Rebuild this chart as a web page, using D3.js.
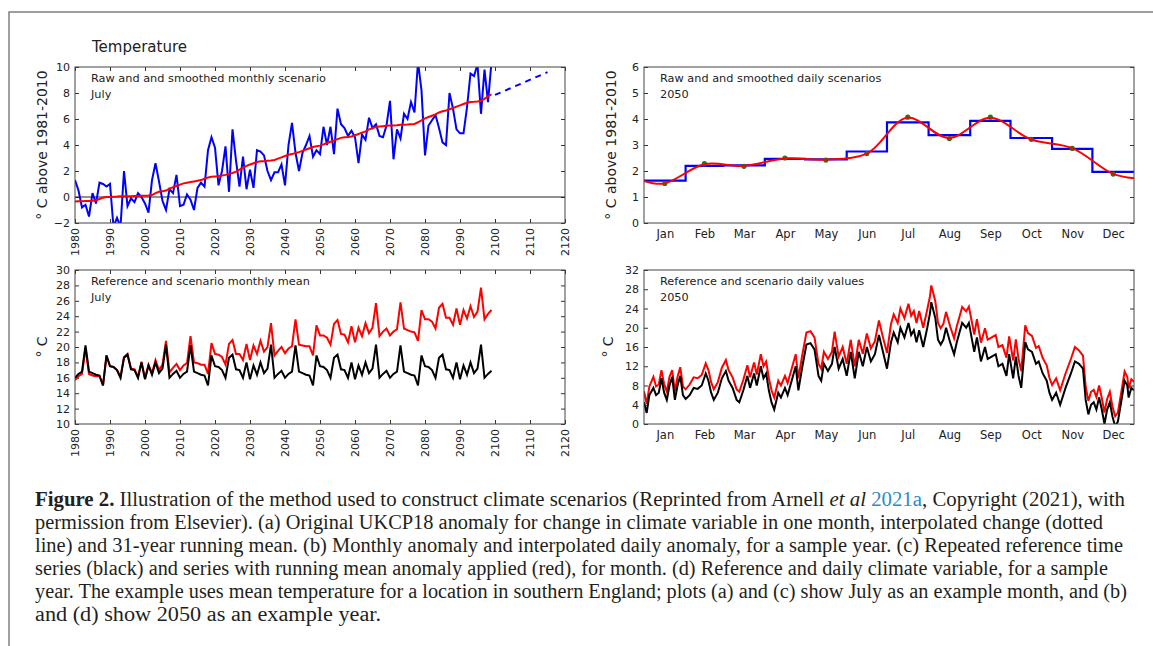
<!DOCTYPE html>
<html>
<head>
<meta charset="utf-8">
<script src="https://cdn.jsdelivr.net/npm/d3@7"></script>
<style>
  body { margin: 0; background: #fff; }
  svg text { font-family: "DejaVu Sans", sans-serif; fill: #222; }
  .cap text { font-family: "Liberation Serif", serif; fill: #231f20; }
</style>
</head>
<body>
<svg id="fig" width="1153" height="646"></svg>
<script>
// ---------- data ----------
const firstYear = 1980;

// (a) raw July anomaly, 1980-2099
const rawJuly = [
  1.3, 0.5, -0.8, -0.6, -1.5, 0.3, -0.5, 1.1, 1.0, 0.8,
  1.0, -2.3, -1.6, -2.3, 2.0, -0.7, -0.1, -0.4, 0.3, 0.0,
  -0.5, -1.2, 1.3, 2.6, 1.2, -0.3, -1.0, 0.6, 0.3, 1.7,
  -0.7, -0.6, 0.2, -0.2, -1.0, 0.7, 1.1, 0.8, 3.6, 4.6,
  3.8, 0.9, 2.0, 3.9, 0.4, 5.2, 2.8, 0.8, 3.1, 0.6,
  2.1, 0.7, 3.6, 3.5, 3.2, 2.0, 1.3, 1.9, 1.9, 2.5,
  0.9, 4.0, 5.7, 3.4, 2.0, 3.4, 4.0, 4.7, 3.1, 3.6,
  3.3, 5.4, 4.0, 5.4, 3.3, 6.8, 5.6, 5.3, 4.7, 5.1,
  4.6, 2.6, 4.8, 4.4, 6.1, 5.3, 5.6, 4.7, 4.6, 5.5,
  7.4, 2.9, 5.2, 4.5, 6.4, 6.0, 7.3, 6.5, 10.4, 8.2,
  3.2, 5.5, 5.9, 6.3, 5.3, 4.2, 4.0, 8.0, 6.8, 5.2,
  4.9, 4.9, 6.9, 9.5, 9.3, 10.2, 6.4, 9.8, 7.3, 10.4
];
// (a) 31-year running mean, 1980-2099
const smoothJuly = [
  -0.35, -0.33, -0.32, -0.3, -0.3, -0.28, -0.25, -0.15, -0.05, 0.0,
  0.0, 0.02, 0.03, 0.05, 0.05, 0.05, 0.06, 0.08, 0.08, 0.1,
  0.1, 0.12, 0.15, 0.3, 0.4, 0.45, 0.5, 0.65, 0.75, 0.85,
  0.95, 1.05, 1.1, 1.15, 1.2, 1.25, 1.3, 1.4, 1.5, 1.55,
  1.58, 1.6, 1.65, 1.7, 1.78, 1.85, 1.95, 2.1, 2.25, 2.4,
  2.5, 2.6, 2.7, 2.75, 2.75, 2.78, 2.8, 2.85, 2.95, 3.05,
  3.15, 3.25, 3.3, 3.38, 3.45, 3.55, 3.65, 3.75, 3.85, 3.9,
  3.95, 4.05, 4.15, 4.25, 4.35, 4.45, 4.55, 4.6, 4.62, 4.65,
  4.75, 4.85, 4.95, 5.05, 5.2, 5.3, 5.38, 5.42, 5.45, 5.48,
  5.5, 5.5, 5.52, 5.55, 5.55, 5.57, 5.6, 5.62, 5.75, 5.9,
  6.05, 6.15, 6.25, 6.35, 6.5, 6.6, 6.65, 6.75, 6.85, 6.95,
  7.05, 7.15, 7.25, 7.3, 7.32, 7.35, 7.4, 7.55, 7.75, 7.9
];
// (a) interpolated change beyond the series
const extYears = [2100, 2115];
const extVals = [7.85, 9.6];

// (b) months
const monthNames = ["Jan","Feb","Mar","Apr","May","Jun","Jul","Aug","Sep","Oct","Nov","Dec"];
const monthStart = [0, 31, 59, 90, 120, 151, 181, 212, 243, 273, 304, 334, 365];
const monthAnom = [1.63, 2.20, 2.22, 2.47, 2.45, 2.75, 3.87, 3.38, 3.93, 3.27, 2.85, 1.97];
const monthDot = [1.52, 2.28, 2.18, 2.50, 2.42, 2.67, 4.07, 3.25, 4.07, 3.22, 2.87, 1.88];
const smoothDays = [0, 15, 45, 74, 105, 135, 166, 196, 227, 258, 288, 319, 349, 365];
const smoothVals = [1.62, 1.52, 2.26, 2.2, 2.48, 2.44, 2.67, 4.05, 3.27, 4.05, 3.22, 2.88, 1.9, 1.72];

// (c) July mean, reference (black) and scenario (red), 1980-2099
const refJuly = [
  16.0, 16.5, 16.8, 20.2, 16.8, 16.6, 16.4, 16.3, 15.0, 18.9,
  17.5, 17.4, 17.0, 16.0, 18.6, 19.0, 17.1, 17.0, 16.0, 18.0,
  15.8, 17.6, 16.4, 18.0, 16.6, 17.2, 20.3, 16.0, 16.5, 16.9,
  16.0, 16.5, 16.8, 20.2, 16.8, 16.6, 16.4, 16.3, 15.0, 18.9,
  17.5, 17.4, 17.0, 16.0, 18.6, 19.0, 17.1, 17.0, 16.0, 18.0,
  15.8, 17.6, 16.4, 18.0, 16.6, 17.2, 20.3, 16.0, 16.5, 16.9,
  16.0, 16.5, 16.8, 20.2, 16.8, 16.6, 16.4, 16.3, 15.0, 18.9,
  17.5, 17.4, 17.0, 16.0, 18.6, 19.0, 17.1, 17.0, 16.0, 18.0,
  15.8, 17.6, 16.4, 18.0, 16.6, 17.2, 20.3, 16.0, 16.5, 16.9,
  16.0, 16.5, 16.8, 20.2, 16.8, 16.6, 16.4, 16.3, 15.0, 18.9,
  17.5, 17.4, 17.0, 16.0, 18.6, 19.0, 17.1, 17.0, 16.0, 18.0,
  15.8, 17.6, 16.4, 18.0, 16.6, 17.2, 20.3, 16.0, 16.5, 16.9
];
const scenJuly = [
  15.7, 16.2, 16.5, 19.9, 16.5, 16.3, 16.2, 16.2, 15.0, 18.9,
  17.5, 17.4, 17.0, 16.1, 18.7, 19.1, 17.2, 17.1, 16.1, 18.1,
  15.9, 17.7, 16.6, 18.3, 17.0, 17.7, 20.8, 16.7, 17.3, 17.8,
  17.0, 17.6, 17.9, 21.4, 18.0, 17.9, 17.7, 17.7, 16.5, 20.5,
  19.1, 19.0, 18.7, 17.7, 20.4, 20.9, 19.1, 19.1, 18.3, 20.4,
  18.3, 20.2, 19.1, 20.8, 19.4, 20.0, 23.1, 18.9, 19.5, 20.0,
  19.2, 19.8, 20.1, 23.6, 20.3, 20.2, 20.1, 20.1, 18.9, 22.8,
  21.5, 21.5, 21.2, 20.3, 23.0, 23.5, 21.7, 21.6, 20.6, 22.7,
  20.6, 22.5, 21.4, 23.1, 21.8, 22.5, 25.7, 21.4, 22.0, 22.4,
  21.5, 22.0, 22.3, 25.8, 22.4, 22.2, 22.0, 21.9, 20.8, 24.8,
  23.6, 23.6, 23.3, 22.4, 25.1, 25.6, 23.8, 23.8, 22.9, 25.0,
  22.9, 24.8, 23.7, 25.3, 23.9, 24.6, 27.7, 23.6, 24.3, 24.8
];

// (d) daily values in 2050: day of year, reference, scenario
const dDays = [
  0, 2, 4, 7, 9, 11, 13, 15, 17, 19, 21, 23, 25, 27, 29, 31, 34, 37, 40, 43,
  46, 48, 50, 52, 55, 58, 61, 63, 66, 69, 71, 74, 77, 79, 82, 84, 87, 89, 91, 93,
  95, 97, 100, 102, 105, 107, 110, 113, 115, 118, 121, 124, 127, 130, 132, 134, 137, 140, 142, 145,
  148, 151, 154, 157, 160, 163, 166, 169, 172, 175, 178, 181, 184, 186, 189, 191, 194, 197, 199, 201,
  203, 205, 208, 211, 213, 214, 217, 219, 221, 223, 225, 228, 231, 233, 235, 237, 240, 242, 244, 246,
  248, 251, 254, 256, 259, 262, 264, 267, 270, 272, 275, 277, 279, 281, 284, 286, 289, 292, 294, 297,
  300, 302, 304, 307, 310, 314, 318, 321, 324, 327, 329, 331, 333, 335, 337, 339, 341, 343, 345, 347,
  349, 351, 353, 356, 358, 360, 361, 363, 365
];
const dRef = [
  4.5, 2.3, 6.0, 7.5, 6.0, 6.5, 9.5, 6.5, 5.0, 8.0, 9.8, 5.0, 8.0, 10.0, 6.0, 5.2, 6.0, 7.5, 7.3, 8.0,
  10.5, 9.0, 6.5, 5.0, 6.5, 9.5, 11.0, 9.0, 7.5, 5.0, 4.5, 7.0, 10.0, 7.5, 10.5, 8.0, 12.0, 9.5, 10.5, 7.0,
  4.5, 3.0, 6.5, 5.5, 7.5, 6.0, 9.0, 12.0, 7.0, 12.0, 16.5, 16.8, 15.5, 10.0, 9.0, 12.5, 11.0, 12.5, 16.0, 11.5,
  13.5, 10.0, 15.0, 9.5, 15.0, 12.0, 16.0, 13.0, 14.5, 18.5, 15.0, 11.5, 17.0, 19.0, 17.0, 20.0, 18.0, 21.0, 18.5, 19.5,
  17.0, 19.5, 16.0, 20.0, 23.0, 25.3, 22.0, 17.5, 16.5, 17.5, 20.0, 17.0, 14.5, 17.0, 19.0, 21.0, 20.0, 21.0, 18.0, 15.0,
  18.0, 13.0, 16.0, 13.5, 14.0, 14.5, 12.0, 12.5, 10.0, 14.5, 9.5, 14.0, 10.0, 7.5, 17.0, 15.5, 15.0, 12.5, 13.0, 10.5,
  9.0, 6.5, 5.0, 6.5, 4.0, 7.5, 10.5, 13.0, 12.5, 11.5, 5.0, 2.0, 4.0, 4.5, 3.0, 5.5, 3.0, 0.0, 3.0, 4.5,
  1.5, -0.5, 0.5, 5.5, 9.0, 8.0, 5.5, 7.5, 7.0
];
const dScen = [
  6.8, 4.2, 7.8, 9.8, 7.8, 8.2, 11.2, 8.3, 6.7, 9.8, 11.2, 6.8, 9.8, 11.8, 7.8, 7.2, 8.2, 9.7, 9.5, 10.2,
  12.6, 11.2, 8.7, 7.2, 8.7, 11.7, 13.3, 11.2, 9.7, 7.2, 6.7, 9.2, 12.2, 9.7, 12.8, 10.3, 14.5, 12.0, 13.0, 9.5,
  7.0, 5.5, 9.0, 8.0, 10.0, 8.5, 11.5, 14.5, 9.5, 14.5, 19.0, 19.3, 18.0, 12.5, 11.5, 15.0, 13.5, 15.0, 19.2, 14.0,
  16.0, 12.5, 17.5, 12.0, 17.5, 14.6, 18.8, 15.7, 17.2, 21.5, 18.0, 14.8, 20.8, 22.8, 21.0, 24.0, 22.0, 25.0, 22.5, 23.5,
  21.0, 23.5, 20.0, 23.8, 26.5, 28.8, 25.5, 21.0, 19.9, 20.8, 23.3, 20.3, 17.8, 20.3, 22.3, 24.3, 23.4, 24.4, 21.5, 18.6,
  21.8, 16.9, 19.9, 17.5, 18.0, 18.5, 16.0, 16.4, 13.8, 18.2, 13.2, 17.6, 13.5, 11.0, 20.5, 18.9, 18.3, 15.8, 16.2, 13.7,
  12.2, 9.6, 8.1, 9.5, 7.0, 10.5, 13.5, 16.0, 15.3, 14.2, 7.8, 4.8, 6.7, 7.1, 5.6, 8.0, 5.4, 2.4, 5.2, 6.7,
  3.6, 1.6, 2.4, 7.4, 10.9, 9.8, 7.4, 9.3, 8.8
];

// ---------- layout ----------
const svg = d3.select("#fig");
const defs = svg.append("defs");
const boxA = { l: 75, r: 565, t: 67, b: 223 };
const boxB = { l: 644, r: 1134, t: 67, b: 223 };
const boxC = { l: 75, r: 565, t: 270, b: 424 };
const boxD = { l: 644, r: 1134, t: 270, b: 424 };

// page frame
svg.append("path")
  .attr("d", "M9,646 L9,12 L1153,12")
  .attr("fill", "none").attr("stroke", "#808080").attr("stroke-width", 1.5);

let clipN = 0;
function panel(box, x, y, o) {
  const g = svg.append("g");
  const id = "clip" + (clipN++);
  defs.append("clipPath").attr("id", id).append("rect")
    .attr("x", box.l).attr("y", box.t)
    .attr("width", box.r - box.l).attr("height", box.b - box.t);

  const style = (a) => a.attr("font-family", "DejaVu Sans").attr("font-size", 11)
    .attr("color", "#333")
    .call((s) => s.select(".domain").remove());

  // bottom
  const gb = g.append("g").attr("transform", `translate(0,${box.b})`)
    .call(d3.axisBottom(x).tickValues(o.xTicks).tickSize(o.rotate ? -4 : 0)
      .tickPadding(7).tickFormat(o.xFormat))
    .call(style);
  if (o.rotate) {
    gb.selectAll("text")
      .attr("transform", "rotate(-90)")
      .attr("x", -5).attr("y", 0).attr("dy", "0.35em")
      .attr("text-anchor", "end");
    // top ticks
    g.append("g").attr("transform", `translate(0,${box.t})`)
      .call(d3.axisTop(x).tickValues(o.xTicks).tickSize(-4).tickFormat(""))
      .call(style);
  } else {
    gb.attr("font-size", 11.5);
  }
  // left / right
  g.append("g").attr("transform", `translate(${box.l},0)`)
    .call(d3.axisLeft(y).tickValues(o.yTicks).tickSize(-4).tickPadding(5)
      .tickFormat(d3.format("d")))
    .call(style);
  g.append("g").attr("transform", `translate(${box.r},0)`)
    .call(d3.axisRight(y).tickValues(o.yTicks).tickSize(-4).tickFormat(""))
    .call(style);

  // y label
  g.append("text")
    .attr("transform", `translate(${o.labelX},${(box.t + box.b) / 2}) rotate(-90)`)
    .attr("text-anchor", "middle").attr("font-size", 14)
    .text(o.yLabel);

  // annotation
  const t = g.append("text").attr("x", box.l + 16).attr("y", box.t + 15)
    .attr("font-size", 11.3);
  o.note.forEach((s, i) => t.append("tspan")
    .attr("x", box.l + 16).attr("dy", i ? 16 : 0).text(s));

  const plot = g.append("g").attr("clip-path", `url(#${id})`);
  return { g, plot };
}

function frameRect(box) {
  svg.append("rect").attr("x", box.l).attr("y", box.t)
    .attr("width", box.r - box.l).attr("height", box.b - box.t)
    .attr("fill", "none").attr("stroke", "#444").attr("stroke-width", 1);
}

const yearTicks = d3.range(1980, 2121, 10);
const monthMid = monthNames.map((m, i) => (monthStart[i] + monthStart[i + 1]) / 2);
const yr = (i) => firstYear + i;

// ---------- (a) ----------
{
  const x = d3.scaleLinear().domain([1980, 2120]).range([boxA.l, boxA.r]);
  const y = d3.scaleLinear().domain([-2, 10]).range([boxA.b, boxA.t]);
  const { plot } = panel(boxA, x, y, {
    xTicks: yearTicks, xFormat: d3.format("d"), rotate: true,
    yTicks: d3.range(-2, 11, 2), labelX: 47,
    yLabel: "° C above 1981-2010",
    note: ["Raw and and smoothed monthly scenario", "July"]
  });
  plot.append("line")
    .attr("x1", boxA.l).attr("x2", boxA.r).attr("y1", y(0)).attr("y2", y(0))
    .attr("stroke", "#222").attr("stroke-width", 1);
  const line = d3.line().x((d, i) => x(yr(i))).y((d) => y(d));
  plot.append("path").attr("d", line(rawJuly))
    .attr("fill", "none").attr("stroke", "#0000ff").attr("stroke-width", 2);
  plot.append("path").attr("d", line(smoothJuly))
    .attr("fill", "none").attr("stroke", "#ff0000").attr("stroke-width", 2);
  plot.append("path")
    .attr("d", d3.line().x((d, i) => x(extYears[i])).y((d) => y(d))(extVals))
    .attr("fill", "none").attr("stroke", "#0000ff").attr("stroke-width", 2)
    .attr("stroke-dasharray", "6,5");
  frameRect(boxA);
  svg.append("text").attr("x", 92).attr("y", 52).attr("font-size", 15)
    .text("Temperature");
}

// ---------- (b) ----------
{
  const x = d3.scaleLinear().domain([0, 365]).range([boxB.l, boxB.r]);
  const y = d3.scaleLinear().domain([0, 6]).range([boxB.b, boxB.t]);
  const { plot } = panel(boxB, x, y, {
    xTicks: monthMid, xFormat: (d, i) => monthNames[i], rotate: false,
    yTicks: d3.range(0, 7, 1), labelX: 616,
    yLabel: "° C above 1981-2010",
    note: ["Raw and and smoothed daily scenarios", "2050"]
  });
  const steps = monthAnom.map((v, i) => [monthStart[i], v]).concat([[365, monthAnom[11]]]);
  plot.append("path")
    .attr("d", d3.line().curve(d3.curveStepAfter).x((d) => x(d[0])).y((d) => y(d[1]))(steps))
    .attr("fill", "none").attr("stroke", "#0000ff").attr("stroke-width", 2.2);
  plot.selectAll("circle").data(monthDot).join("circle")
    .attr("cx", (d, i) => x(monthMid[i])).attr("cy", (d) => y(d)).attr("r", 2.6)
    .attr("fill", "#1f7a1f");
  plot.append("path")
    .attr("d", d3.line().curve(d3.curveCatmullRom.alpha(0.5))
      .x((d, i) => x(smoothDays[i])).y((d) => y(d))(smoothVals))
    .attr("fill", "none").attr("stroke", "#ff0000").attr("stroke-width", 2);
  frameRect(boxB);
}

// ---------- (c) ----------
{
  const x = d3.scaleLinear().domain([1980, 2120]).range([boxC.l, boxC.r]);
  const y = d3.scaleLinear().domain([10, 30]).range([boxC.b, boxC.t]);
  const { plot } = panel(boxC, x, y, {
    xTicks: yearTicks, xFormat: d3.format("d"), rotate: true,
    yTicks: d3.range(10, 31, 2), labelX: 47,
    yLabel: "° C",
    note: ["Reference and scenario monthly mean", "July"]
  });
  const line = d3.line().x((d, i) => x(yr(i))).y((d) => y(d));
  plot.append("path").attr("d", line(scenJuly))
    .attr("fill", "none").attr("stroke", "#ff0000").attr("stroke-width", 2);
  plot.append("path").attr("d", line(refJuly))
    .attr("fill", "none").attr("stroke", "#000").attr("stroke-width", 2);
  frameRect(boxC);
}

// ---------- (d) ----------
{
  const x = d3.scaleLinear().domain([0, 365]).range([boxD.l, boxD.r]);
  const y = d3.scaleLinear().domain([0, 32]).range([boxD.b, boxD.t]);
  const { plot } = panel(boxD, x, y, {
    xTicks: monthMid, xFormat: (d, i) => monthNames[i], rotate: false,
    yTicks: d3.range(0, 33, 4), labelX: 613,
    yLabel: "° C",
    note: ["Reference and scenario daily values", "2050"]
  });
  const line = d3.line().x((d, i) => x(dDays[i])).y((d) => y(d));
  plot.append("path").attr("d", line(dScen))
    .attr("fill", "none").attr("stroke", "#ff0000").attr("stroke-width", 2);
  plot.append("path").attr("d", line(dRef))
    .attr("fill", "none").attr("stroke", "#000").attr("stroke-width", 2);
  frameRect(boxD);
}

// ---------- caption ----------
const cap = svg.append("g").attr("class", "cap");
const capLines = [
  [["Figure 2.", "b"], [" Illustration of the method used to construct climate scenarios (Reprinted from Arnell ", ""],
   ["et al", "i"], [" ", ""], ["2021a", "l"], [", Copyright (2021), with", ""]],
  [["permission from Elsevier). (a) Original UKCP18 anomaly for change in climate variable in one month, interpolated change (dotted", ""]],
  [["line) and 31-year running mean. (b) Monthly anomaly and interpolated daily anomaly, for a sample year. (c) Repeated reference time", ""]],
  [["series (black) and series with running mean anomaly applied (red), for month. (d) Reference and daily climate variable, for a sample", ""]],
  [["year. The example uses mean temperature for a location in southern England; plots (a) and (c) show July as an example month, and (b)", ""]],
  [["and (d) show 2050 as an example year.", ""]]
];
// right edge of each printed line
const capRight = [1125, 1103, 1123, 1108, 1127, 381];
capLines.forEach((parts, i) => {
  const t = cap.append("text").attr("x", 35).attr("y", 506 + i * 22.9).attr("font-size", 20);
  parts.forEach(([s, k]) => {
    const sp = t.append("tspan").text(s);
    if (k === "b") sp.attr("font-weight", "bold");
    if (k === "i") sp.attr("font-style", "italic");
    if (k === "l") sp.style("fill", "#2b8cc4");
  });
  t.attr("textLength", capRight[i] - 35).attr("lengthAdjust", "spacingAndGlyphs");
});
</script>
</body>
</html>
